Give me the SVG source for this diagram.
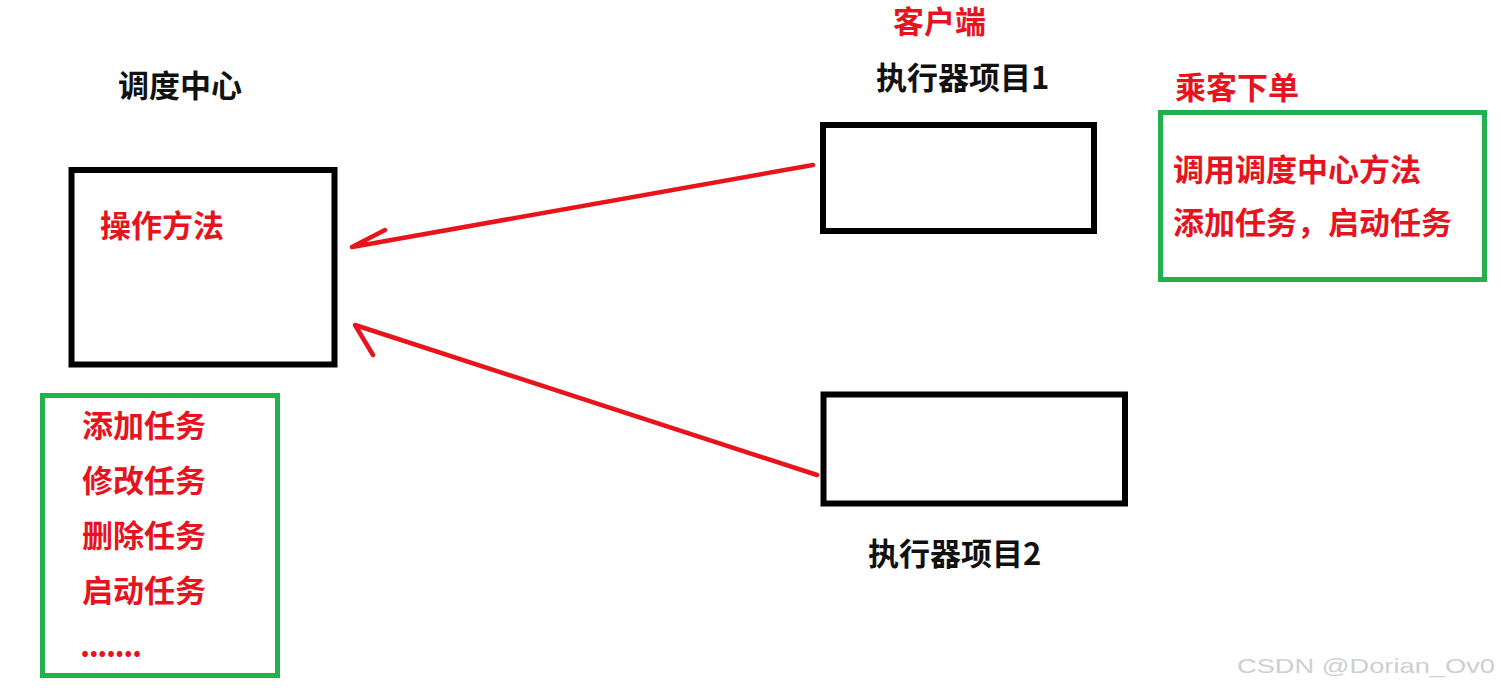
<svg xmlns="http://www.w3.org/2000/svg" width="1500" height="693" viewBox="0 0 1500 693">
  <style>
    .box { fill: none; stroke: #000000; stroke-width: 6; }
    .gbox { fill: none; stroke: #22b14c; stroke-width: 5; }
    .t { font-family: "Noto Sans CJK SC", "Liberation Sans", sans-serif; font-weight: bold; font-size: 31px; }
    .red { fill: #e5141e; }
    .blk { fill: #111111; }
    .arrow { fill: none; stroke: #e8141c; stroke-width: 4.5; stroke-linecap: round; stroke-linejoin: round; }
    .wm { font-family: "Liberation Sans", Arial, sans-serif; font-size: 21px; fill: #cfcfcf; }
  </style>
  <rect width="1500" height="693" fill="#ffffff"/>

  <g id="dispatch-center">
    <text class="t blk" x="118" y="97">调度中心</text>
    <rect class="box" x="71.5" y="170" width="263" height="194.5"/>
    <text class="t red" x="100" y="237">操作方法</text>
  </g>

  <g id="dispatch-ops">
    <rect class="gbox" x="42.5" y="395.5" width="235" height="280"/>
    <text class="t red" x="82" y="437">添加任务</text>
    <text class="t red" x="82" y="492">修改任务</text>
    <text class="t red" x="82" y="547">删除任务</text>
    <text class="t red" x="82" y="602">启动任务</text>
    <text class="t red" x="80" y="657" textLength="62" lengthAdjust="spacing">.......</text>
  </g>

  <g id="client-label">
    <text class="t red" x="893" y="33">客户端</text>
  </g>

  <g id="executor-1">
    <text class="t blk" x="876" y="89">执行器项目1</text>
    <rect class="box" x="823" y="125" width="271" height="106"/>
  </g>

  <g id="executor-2">
    <rect class="box" x="823.5" y="394.5" width="301.5" height="109"/>
    <text class="t blk" x="868" y="565">执行器项目2</text>
  </g>

  <g id="passenger-order">
    <text class="t red" x="1175" y="99">乘客下单</text>
    <rect class="gbox" x="1160.5" y="112.5" width="324" height="167"/>
    <text class="t red" x="1173" y="181">调用调度中心方法</text>
    <text class="t red" x="1173" y="234">添加任务，启动任务</text>
  </g>

  <g id="connectors">
    <path class="arrow" d="M813,165 L352,247 L385,230"/>
    <path class="arrow" d="M817,475 L355,325 L373,355"/>
  </g>

  <text class="wm" x="1237" y="673" textLength="258" lengthAdjust="spacingAndGlyphs">CSDN @Dorian_Ov0</text>
</svg>
